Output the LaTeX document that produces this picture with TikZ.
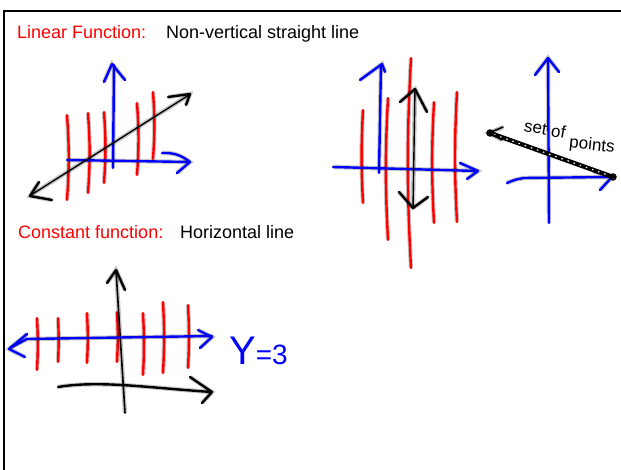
\documentclass[tikz,border=0pt]{standalone}
\usepackage{fontspec}
\setmainfont{Liberation Sans}
\usetikzlibrary{calc,positioning}
\definecolor{inkred}{RGB}{255,0,0}
\definecolor{inkblue}{RGB}{0,0,255}
\tikzset{
  ink/.style={line width=2.4pt,line cap=round,line join=round,
    preaction={draw,line width=4.4pt,opacity=.22}},
  redink/.style={ink,inkred},
  blueink/.style={ink,inkblue},
  blackink/.style={ink,black},
  heading/.style={anchor=base west,inner sep=0pt,font=\fontsize{18}{21}\selectfont},
  scrawl/.style={inner sep=0pt,font=\fontsize{17}{17}\selectfont}
}
\begin{document}
\begin{tikzpicture}[x=1pt,y=-1pt]
\useasboundingbox (0,0) rectangle (621,470);
\draw[line width=2.2pt] (4,470)--(4,11)--(621,11);

\node[heading,text=inkred] (linlbl) at (17,39) {Linear Function:};
\node[heading] (lindesc) at (166,39) {Non-vertical straight line};
\node[heading,text=inkred] (constlbl) at (18,239) {Constant function:};
\node[heading] (constdesc) at (180,239) {Horizontal line};

% linear, top left
\foreach \x/\t/\b in {67/115/200,88/113/193,104/112/183,137/103/175,153/92/159}
  \draw[redink] (\x,\t) to[bend left=4] (\x,\b);
\draw[blueink] (113,168) -- (114,65);
\draw[blueink] (104,82) -- (112,64) -- (125,80);
\draw[blueink] (67,160) -- (190,162);
\draw[blueink] (162,153) to[bend left=20] (190,162) -- (177,173);
\draw[blackink,line width=1.4pt] (31,195) -- (189,95);
\draw[blackink] (39,182) -- (30,196) -- (52,200);
\draw[blackink] (168,97) -- (190,94) -- (186,105);

% vertical line, middle
\foreach \x/\t/\b in {363/110/203,388/98/240,411/58/268,434/102/223,457/92/222}
  \draw[redink] (\x,\t) to[bend right=3] (\x,\b);
\draw[blueink] (379,173) -- (381,65);
\draw[blueink] (360,80) -- (382,64) -- (385,72);
\draw[blueink] (333,167) -- (478,171);
\draw[blueink] (460,163) -- (478,171) -- (467,179);
\draw[blackink,line width=1.4pt] (415,89) -- (413,208);
\draw[blackink] (400,102) -- (415,89) -- (427,112);
\draw[blackink] (399,192) -- (413,208) -- (428,197);

% set of points, right
\draw[blueink] (549,223) -- (548,58);
\draw[blueink] (535,75) -- (548,58) -- (559,72);
\draw[blueink] (507,183) to[bend left=8] (524,178) -- (612,177);
\draw[blueink] (593,171) -- (612,177) -- (600,190);
\draw[line width=4.5pt,line cap=round] (490,133) -- (613,177);
\draw[white,line width=1.2pt,dash pattern=on 1.5pt off 5pt] (494,134.5) -- (609,175.5);
\draw[blackink,line width=1.6pt] (503,127) -- (489,133) -- (502,140);
\draw[line width=1.4pt] (490,133) circle (3) (613,177) circle (3);
\node[scrawl,rotate=-10] (setof) at (545,129) {set of};
\node[scrawl,rotate=-6] (pts) at (592,146) {points};

% constant, bottom left
\foreach \x/\t/\b in {37/318/370,58/318/362,87/313/363,117/312/362,143/313/375,163/302/373,188/305/368}
  \draw[redink] (\x,\t) to[bend left=3] (\x,\b);
\draw[blackink,line width=1.6pt] (125,413) -- (116,270);
\draw[blackink] (107,283) -- (116,270) -- (125,290);
\draw[blackink] (58,387) .. controls (100,380) and (150,388) .. (212,392);
\draw[blackink] (190,377) -- (212,392) -- (202,403);
\draw[blueink] (10,348) -- (27,339) -- (212,336);
\draw[blueink] (27,334) -- (9,349) -- (25,357);
\draw[blueink] (198,330) -- (212,337) -- (200,348);
\node[anchor=base west,inner sep=0pt,text=inkblue] (yeq) at (229,364)
  {{\fontsize{40}{40}\selectfont Y}{\fontsize{28}{28}\selectfont =3}};
\end{tikzpicture}
\end{document}
